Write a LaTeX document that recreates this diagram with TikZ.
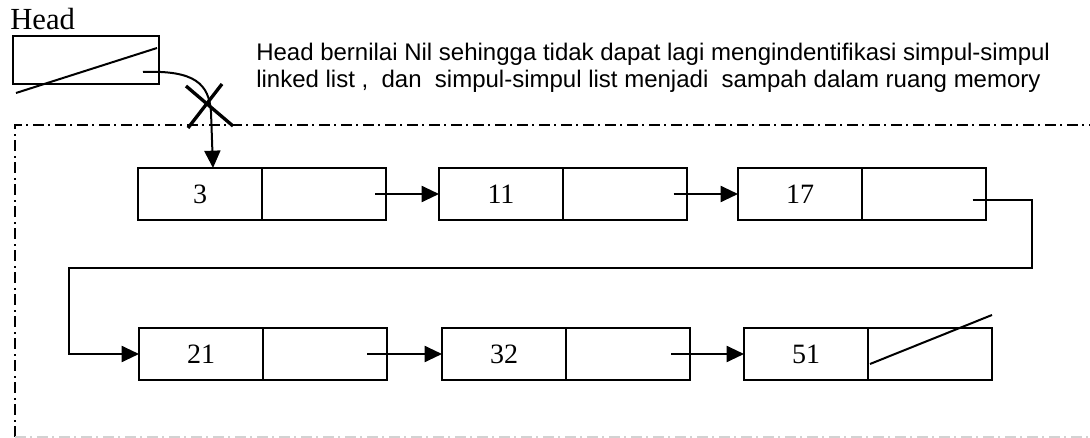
\documentclass[tikz,border=0pt]{standalone}
\usepackage{fontspec}
\setmainfont{Liberation Serif}
\newfontfamily\arialfont{Liberation Sans}
\usetikzlibrary{arrows.meta}
\pgfdeclarelayer{edgelayer}
\pgfdeclarelayer{nodelayer}
\pgfsetlayers{edgelayer,nodelayer,main}
\tikzstyle{data_cell}=[rectangle,draw=black,line width=1.5pt,minimum width=93pt,minimum height=39pt,inner sep=0pt,outer sep=0pt,font=\fontsize{21}{25}\selectfont]
\tikzstyle{link_cell}=[rectangle,draw=black,line width=1.5pt,minimum width=93pt,minimum height=39pt,inner sep=0pt,outer sep=0pt]
\tikzstyle{head_cell}=[rectangle,draw=black,line width=1.5pt,minimum width=109.5pt,minimum height=36pt,inner sep=0pt,outer sep=0pt]
\tikzstyle{pointer}=[-{Triangle[length=13pt,width=12pt]},draw=black,line width=1.5pt]
\tikzstyle{nil}=[draw=black,line width=1.5pt]
\tikzstyle{cross}=[draw=black,line width=2.5pt]
\tikzstyle{region}=[draw=black,line width=1.2pt,dash pattern=on 8pt off 3.5pt on 1.5pt off 3.5pt]

\begin{document}
\begin{tikzpicture}[x=0.75pt,y=-0.75pt]
	\useasboundingbox (0,0) rectangle (1090,438);
	\begin{pgfonlayer}{nodelayer}
		\node [anchor=base west,inner sep=0pt,font=\fontsize{23}{27}\selectfont] (headlbl) at (10,30) {Head};
		\node [style=head_cell] (head) at (86,60) {};
		\node [anchor=north west,align=left,inner sep=0pt,font=\arialfont\fontsize{18}{20}\selectfont] (note) at (256,43)
			{Head bernilai Nil sehingga tidak dapat lagi mengindentifikasi simpul-simpul\\
			linked list ,\ \ dan\ \ simpul-simpul list menjadi\ \ sampah dalam ruang memory};
		\node [style=data_cell] (0) at (200,194) {3};
		\node [style=link_cell] (p0) at (324,194) {};
		\node [style=data_cell] (1) at (501,194) {11};
		\node [style=link_cell] (p1) at (625,194) {};
		\node [style=data_cell] (2) at (800,194) {17};
		\node [style=link_cell] (p2) at (924,194) {};
		\node [style=data_cell] (3) at (201,354) {21};
		\node [style=link_cell] (p3) at (325,354) {};
		\node [style=data_cell] (4) at (504,354) {32};
		\node [style=link_cell] (p4) at (628,354) {};
		\node [style=data_cell] (5) at (806,354) {51};
		\node [style=link_cell] (p5) at (930,354) {};
		\coordinate (r1) at (1032,268);
		\coordinate (l1) at (69,268);
	\end{pgfonlayer}
	\begin{pgfonlayer}{edgelayer}
		% memory area
		\draw [style=region] (15,437) -- (15,125) -- (1090,125);
		\draw [style=region,draw=gray!35] (15,437) -- (1090,437);
		% head is nil
		\draw [style=nil] ([shift={(2.25pt,-6.75pt)}]head.south west) -- ([shift={(-1.5pt,-9pt)}]head.north east);
		\draw [style=pointer] ([shift={(-12pt,-9pt)}]head.east) .. controls (195,70) and (209,84) .. (211,112) -- ([xshift=9.75pt]0.north);
		\draw [style=cross] (186,86) -- (233,126);
		\draw [style=cross] (222,84) -- (188,128);
		% links
		\draw [style=pointer] ([xshift=-8pt]p0.east) -- (1.west);
		\draw [style=pointer] ([xshift=-10pt]p1.east) -- (2.west);
		\draw [style=pointer] ([shift={(-10pt,-4.5pt)}]p2.east) -| (r1) -- (l1) |- (3.west);
		\draw [style=pointer] ([xshift=-15pt]p3.east) -- (4.west);
		\draw [style=pointer] ([xshift=-14pt]p4.east) -- (5.west);
		\draw [style=nil] ([shift={(1.5pt,12pt)}]p5.south west) -- ([yshift=9.75pt]p5.north east);
	\end{pgfonlayer}
\end{tikzpicture}
\end{document}
